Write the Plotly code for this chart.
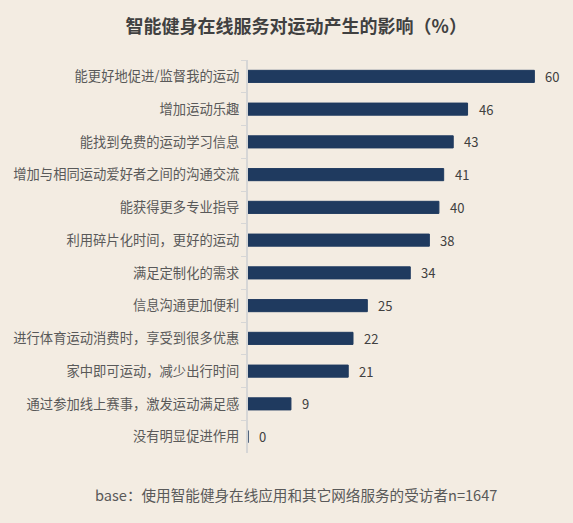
import plotly.graph_objects as go

categories = [
    "能更好地促进/监督我的运动",
    "增加运动乐趣",
    "能找到免费的运动学习信息",
    "增加与相同运动爱好者之间的沟通交流",
    "能获得更多专业指导",
    "利用碎片化时间，更好的运动",
    "满足定制化的需求",
    "信息沟通更加便利",
    "进行体育运动消费时，享受到很多优惠",
    "家中即可运动，减少出行时间",
    "通过参加线上赛事，激发运动满足感",
    "没有明显促进作用",
]
values = [60, 46, 43, 41, 40, 38, 34, 25, 22, 21, 9, 0]

TITLE = "智能健身在线服务对运动产生的影响（%）"
NOTE = "base：使用智能健身在线应用和其它网络服务的受访者n=1647"

BG = "#f3ece2"
BAR = "#1f3a5f"
FONT = "Noto Sans CJK SC, sans-serif"

fig = go.Figure(go.Bar(
    x=values,
    y=categories,
    orientation="h",
    width=0.37,
    marker=dict(color=BAR, line=dict(color=BAR, width=1)),
    hoverinfo="x+y",
))

for cat, val in zip(categories, values):
    fig.add_annotation(
        x=val, y=cat, text=str(val), showarrow=False,
        xanchor="left", xshift=9,
        font=dict(size=13, color="#404040", family=FONT),
    )

fig.add_annotation(
    text=NOTE, xref="paper", yref="paper", x=0.152, y=-0.105,
    xanchor="center", yanchor="middle", showarrow=False,
    font=dict(size=14.6, color="#595959", family=FONT),
)

fig.update_layout(
    width=573,
    height=523,
    paper_bgcolor=BG,
    plot_bgcolor=BG,
    margin=dict(l=248, r=10, t=60, b=70),
    showlegend=False,
    title=dict(
        text="<b>" + TITLE + "</b>", x=0.517, xanchor="center", y=0.948, yanchor="middle",
        font=dict(size=18, color="#404040", family=FONT),
    ),
    font=dict(family=FONT, color="#595959", size=13),
    xaxis=dict(range=[0, 66], visible=False),
    yaxis=dict(
        autorange="reversed",
        showline=True, linecolor="#d6d6d6", linewidth=2,
        ticks="outside", tickson="boundaries", ticklen=5, tickcolor="#d6d6d6",
        tickfont=dict(size=13.3, color="#595959"),
        ticklabelstandoff=4,
        showgrid=False,
    ),
)

# drop the default body margin so the figure fills the window
fig.write_html(
    "out.html",
    config={"displayModeBar": False},
    post_script="document.body.style.margin='0';document.body.style.background='" + BG + "';",
)
